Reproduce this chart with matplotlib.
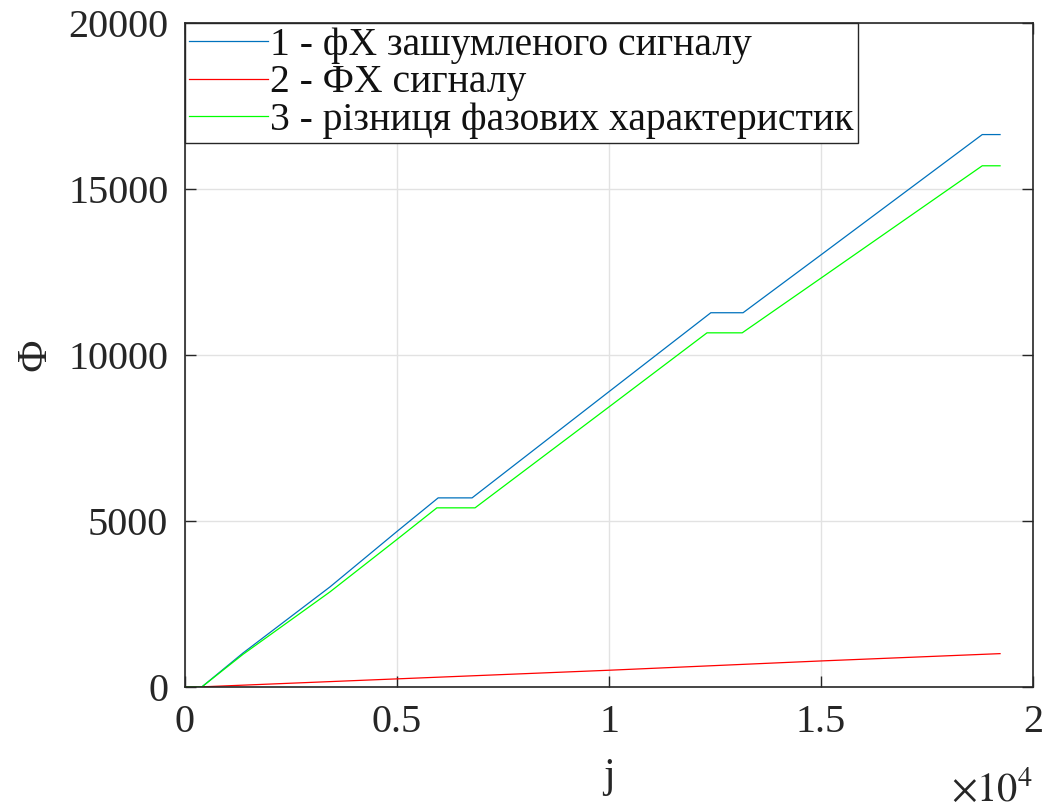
import numpy as np
import matplotlib
matplotlib.use("Agg")
import matplotlib.pyplot as plt
from matplotlib.ticker import FixedLocator, FuncFormatter

plt.rcParams["font.family"] = ["Liberation Serif", "DejaVu Serif"]
plt.rcParams["mathtext.fontset"] = "stix"

# --- data (j, phase) ---
j_noisy = [0, 400, 1370, 3420, 5000, 5970, 6770, 10000, 12400, 13160, 15000, 18800, 19220]
phi_noisy = [0, 0, 1020, 3010, 4680, 5690, 5690, 8890, 11265, 11265, 13010, 16630, 16630]

j_clean = [0, 400, 5000, 10000, 15000, 19220]
phi_clean = [0, 0, 240, 500, 780, 1000]

j_diff = [0, 400, 1370, 3420, 5000, 5940, 6840, 10000, 12310, 13140, 15000, 18800, 19220]
phi_diff = [0, 0, 980, 2860, 4440, 5390, 5390, 8430, 10660, 10660, 12310, 15690, 15690]

labels = ["1 - фХ зашумленого сигналу",
          "2 - ФХ сигналу",
          "3 - різниця фазових характеристик"]
colors = ["#0072BD", "#FF0000", "#00FF00"]

x_ticks = [0, 5000, 10000, 15000, 20000]
x_tick_labels = ["0", "0.5", "1", "1.5", "2"]
y_ticks = [0, 5000, 10000, 15000, 20000]

fig = plt.figure(figsize=(10.51, 8.09), dpi=100)
ax = fig.add_axes([0.176, 0.151, 0.807, 0.821])

ax.plot(j_noisy, phi_noisy, color=colors[0], lw=0.9, label=labels[0])
ax.plot(j_clean, phi_clean, color=colors[1], lw=0.9, label=labels[1])
ax.plot(j_diff, phi_diff, color=colors[2], lw=0.9, label=labels[2])

ax.set_xlim(0, 20000)
ax.set_ylim(0, 20000)
ax.xaxis.set_major_locator(FixedLocator(x_ticks))
ax.xaxis.set_major_formatter(FuncFormatter(lambda v, p: x_tick_labels[x_ticks.index(int(round(v)))]))
ax.yaxis.set_major_locator(FixedLocator(y_ticks))
ax.yaxis.set_major_formatter(FuncFormatter(lambda v, p: f"{int(round(v))}"))

ax.grid(True, color="#e2e2e2", lw=1.0)
ax.set_axisbelow(True)
for s in ax.spines.values():
    s.set_linewidth(1.2)
    s.set_color("#262626")

ax.tick_params(direction="in", top=True, right=True, length=8, width=1.0,
               labelsize=29, pad=12, colors="#262626", labelcolor="#262626")

ax.set_xlabel("j", fontsize=30, labelpad=12, color="#262626")
ax.set_ylabel("Ф", fontsize=30, labelpad=10, color="#262626")
ax.text(1.0, -0.128, r"$\times10^{4}$", transform=ax.transAxes,
        ha="right", va="top", fontsize=29, color="#262626")

leg = ax.legend(loc="upper left", bbox_to_anchor=(0.0, 1.0), borderaxespad=0.0,
                fontsize=28.5, handlelength=2.0, handletextpad=0.05,
                labelspacing=0.02, borderpad=0.1, fancybox=False,
                framealpha=1.0, edgecolor="#262626")
leg.get_frame().set_linewidth(1.0)
for t in leg.get_texts():
    t.set_color("#111111")

fig.savefig("out.png", dpi=100)
